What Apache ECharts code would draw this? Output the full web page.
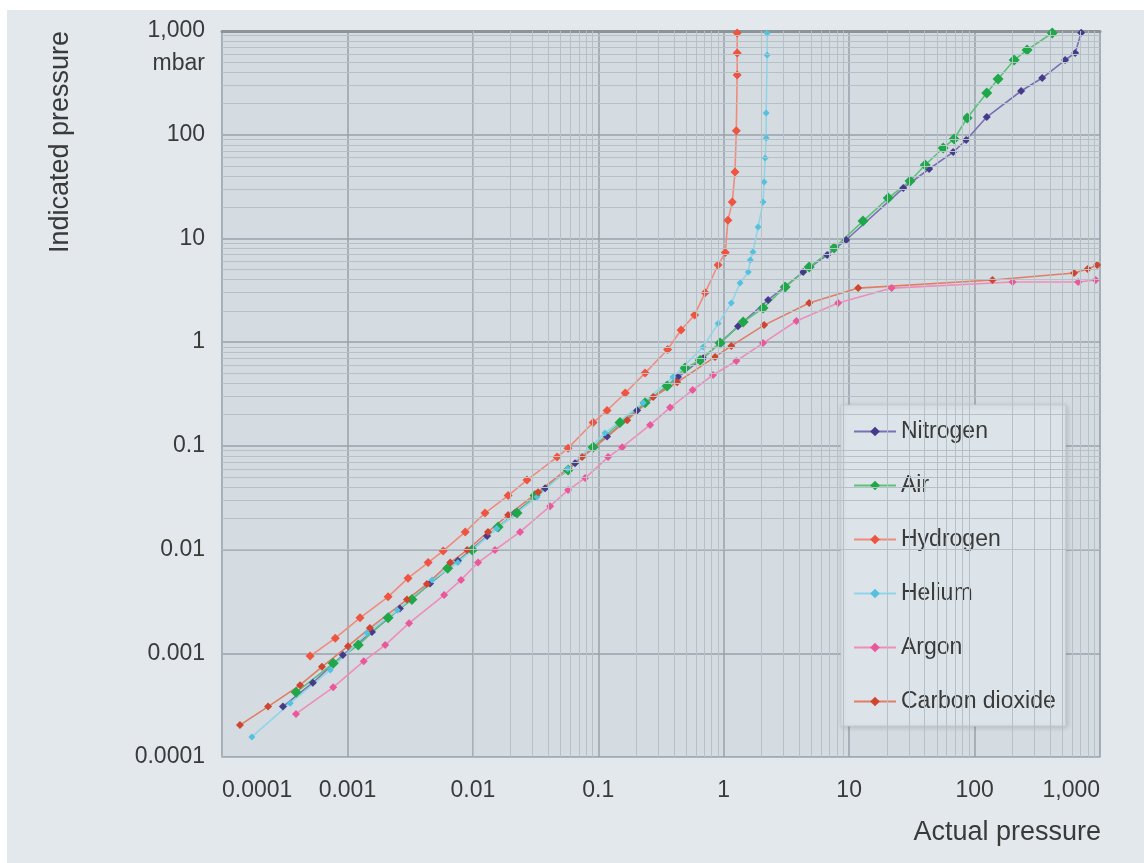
<!DOCTYPE html>
<html>
<head>
<meta charset="utf-8">
<script src="https://cdn.jsdelivr.net/npm/echarts@6/dist/echarts.min.js"></script>
<style>
html,body{margin:0;padding:0;background:#ffffff;width:1144px;height:863px;overflow:hidden;}
#panel{position:absolute;left:7px;top:10px;width:1137px;height:853px;background:#e2e8ec;}
#c{position:absolute;left:0;top:0;width:1144px;height:863px;}
</style>
</head>
<body>
<div id="panel"></div>
<div id="c"></div>
<script>
// Axis ticks (both axes, mbar, log scale)
const tickValues = [0.0001, 0.001, 0.01, 0.1, 1, 10, 100, 1000];
const tickLabels = ['0.0001', '0.001', '0.01', '0.1', '1', '10', '100', '1,000'];

// Series: actual pressure (x) and indicated pressure (y), mbar
const nitrogenActual    = [0.000306, 0.00053, 0.00092, 0.00157, 0.00262, 0.00456, 0.0076, 0.013, 0.0217, 0.0377, 0.0653, 0.1175, 0.204, 0.432, 0.685, 1.3, 2.26, 4.3, 6.68, 9.46, 27, 43.4, 67.5, 85.7, 125, 235, 346, 527, 634, 708];
const nitrogenIndicated = [0.000306, 0.00052, 0.00096, 0.0016, 0.0027, 0.0047, 0.0078, 0.0135, 0.0225, 0.039, 0.068, 0.123, 0.219, 0.46, 0.70, 1.42, 2.55, 4.74, 6.92, 9.66, 30.6, 46.7, 68, 89, 148, 264, 352, 525, 614, 960];

const airActual    = [0.00039, 0.00077, 0.00122, 0.00211, 0.00327, 0.0063, 0.0099, 0.0159, 0.0225, 0.0313, 0.0574, 0.091, 0.149, 0.236, 0.354, 0.492, 0.649, 0.935, 1.43, 2.06, 3.09, 4.8, 7.59, 12.9, 20.5, 30.6, 40.4, 56.2, 68.7, 87.3, 125, 154, 207, 262, 416];
const airIndicated = [0.00042, 0.0008, 0.0012, 0.0022, 0.0033, 0.0066, 0.0099, 0.0165, 0.0225, 0.0332, 0.0585, 0.097, 0.168, 0.261, 0.378, 0.562, 0.67, 0.98, 1.56, 2.13, 3.4, 5.3, 8.08, 14.7, 24.5, 35.8, 51, 74.5, 91, 145, 252, 344, 525, 656, 957];

const hydrogenActual    = [0.000504, 0.0008, 0.00126, 0.00211, 0.00304, 0.0044, 0.0058, 0.0087, 0.0125, 0.0191, 0.027, 0.0469, 0.0574, 0.091, 0.1175, 0.164, 0.236, 0.357, 0.457, 0.586, 0.711, 0.901, 1.03, 1.08, 1.17, 1.23, 1.26, 1.28, 1.28, 1.28];
const hydrogenIndicated = [0.00094, 0.0014, 0.0022, 0.0035, 0.0053, 0.0075, 0.0097, 0.0148, 0.0225, 0.0332, 0.0468, 0.078, 0.095, 0.168, 0.219, 0.323, 0.503, 0.85, 1.31, 1.83, 3.0, 5.54, 7.3, 15.0, 22.4, 43.6, 109, 377, 614, 957];

const heliumActual    = [0.000173, 0.00035, 0.00073, 0.00143, 0.0025, 0.00473, 0.0076, 0.0155, 0.0325, 0.057, 0.113, 0.228, 0.394, 0.685, 0.901, 1.15, 1.35, 1.57, 1.63, 1.71, 1.88, 2.06, 2.1, 2.14, 2.18, 2.18, 2.22, 2.22];
const heliumIndicated = [0.000156, 0.00033, 0.00069, 0.00157, 0.0026, 0.0051, 0.0075, 0.016, 0.0321, 0.06, 0.133, 0.261, 0.46, 0.90, 1.51, 2.38, 3.72, 4.74, 6.19, 7.4, 12.9, 22.4, 35, 59.6, 93, 162, 587, 957];

const argonActual    = [0.000389, 0.00077, 0.00135, 0.002, 0.0031, 0.0059, 0.00805, 0.011, 0.015, 0.0238, 0.0413, 0.0574, 0.0785, 0.1197, 0.155, 0.259, 0.374, 0.565, 0.822, 1.26, 2.06, 3.8, 8.17, 21.8, 201, 670, 925];
const argonIndicated = [0.00026, 0.00047, 0.00084, 0.0012, 0.00195, 0.00364, 0.0051, 0.0075, 0.0099, 0.0148, 0.0262, 0.0375, 0.0489, 0.078, 0.097, 0.159, 0.234, 0.345, 0.482, 0.658, 0.98, 1.6, 2.38, 3.32, 3.8, 3.8, 3.97];

const co2Actual    = [0.000139, 0.000233, 0.000419, 0.000626, 0.00101, 0.00151, 0.00298, 0.0043, 0.0066, 0.009, 0.0132, 0.0191, 0.0331, 0.0743, 0.17, 0.274, 0.425, 0.853, 1.15, 2.1, 4.8, 11.8, 139, 622, 798, 950];
const co2Indicated = [0.000203, 0.000306, 0.000493, 0.00074, 0.00117, 0.00175, 0.0033, 0.00465, 0.0075, 0.0099, 0.0148, 0.0215, 0.0358, 0.078, 0.177, 0.296, 0.41, 0.72, 0.92, 1.46, 2.38, 3.32, 3.97, 4.64, 5.07, 5.54];

const seriesNames = ['Nitrogen', 'Air', 'Hydrogen', 'Helium', 'Argon', 'Carbon dioxide'];

const FONT = 'Liberation Sans, Arial, sans-serif';
const TEXT = '#3a3a3a';

function zip(a, b) { return a.map((v, i) => [v, b[i]]); }
function fmt(v) {
  for (let i = 0; i < tickValues.length; i++) {
    if (Math.abs(Math.log10(v) - Math.log10(tickValues[i])) < 1e-6) return tickLabels[i];
  }
  return '';
}

// minor log grid lines (2..9 within each decade)
const minorGrid = [];
for (let i = 0; i < tickValues.length - 1; i++) {
  for (let m = 2; m <= 9; m++) minorGrid.push(parseFloat((tickValues[i] * m).toPrecision(6)));
}

function mkSeries(name, xs, ys, color, lineColor, symbol, size) {
  return {
    name: name, type: 'line', data: zip(xs, ys), z: 3,
    symbol: symbol, symbolSize: size, showSymbol: true,
    itemStyle: { color: color },
    lineStyle: { color: lineColor, width: 1.6 },
    emphasis: { disabled: true },
    animation: false
  };
}

const chart = echarts.init(document.getElementById('c'), null, { renderer: 'canvas' });
chart.setOption({
  backgroundColor: 'transparent',
  animation: false,
  textStyle: { fontFamily: FONT },
  grid: { left: 222, right: 44, top: 31, bottom: 106, show: true, backgroundColor: '#d4dce1', borderColor: '#b3bcc2', borderWidth: 1 },
  xAxis: [{
    type: 'log', logBase: 10, min: 0.0001, max: 1000, splitNumber: 7,
    axisLine: { show: true, lineStyle: { color: '#aeb7bd', width: 1 } },
    axisTick: { show: false },
    axisLabel: { formatter: fmt, color: TEXT, fontSize: 23, fontFamily: FONT, margin: 22, alignMinLabel: 'left', alignMaxLabel: 'right' },
    splitLine: { show: true, lineStyle: { color: '#98a2aa', width: 1.5 } }
  }, {
    type: 'log', logBase: 10, min: 0.0001, max: 1000, position: 'top',
    axisLine: { show: true, lineStyle: { color: '#8c9499', width: 3 } },
    axisTick: { show: false }, axisLabel: { show: false }, splitLine: { show: false }
  }],
  yAxis: {
    type: 'log', logBase: 10, min: 0.0001, max: 1000, splitNumber: 7,
    axisLine: { show: true, lineStyle: { color: '#a9b2b8', width: 1 } },
    axisTick: { show: false },
    axisLabel: { formatter: fmt, color: TEXT, fontSize: 23, fontFamily: FONT, margin: 17 },
    splitLine: { show: true, lineStyle: { color: '#98a2aa', width: 1.5 } }
  },
  legend: {
    data: seriesNames, orient: 'vertical', left: 841, top: 405,
    padding: [15, 10, 13, 12], itemGap: 31, itemWidth: 42, itemHeight: 12,
    backgroundColor: '#dde4e9', borderColor: '#c4ccd2', borderWidth: 1,
    shadowBlur: 5, shadowColor: 'rgba(0,0,0,0.15)', shadowOffsetX: 1, shadowOffsetY: 1,
    textStyle: { color: TEXT, fontSize: 23, fontFamily: FONT },
    selectedMode: false
  },
  graphic: [
    { type: 'text', x: 61, y: 142, rotation: Math.PI / 2, silent: true,
      style: { text: 'Indicated pressure', fill: TEXT, font: '27px ' + FONT, textAlign: 'center', textVerticalAlign: 'middle' } },
    { type: 'text', x: 205, y: 64, silent: true,
      style: { text: 'mbar', fill: TEXT, font: '23px ' + FONT, textAlign: 'right', textVerticalAlign: 'middle' } },
    { type: 'text', x: 1101, y: 833, silent: true,
      style: { text: 'Actual pressure', fill: TEXT, font: '27px ' + FONT, textAlign: 'right', textVerticalAlign: 'middle' } }
  ],
  series: [
    {
      type: 'line', data: [], z: 1, silent: true, animation: false,
      markLine: {
        silent: true, symbol: ['none', 'none'], animation: false,
        label: { show: false },
        emphasis: { disabled: true },
        lineStyle: { color: '#b6c0c7', width: 1, type: 'solid' },
        data: minorGrid.map(v => ({ xAxis: v })).concat(minorGrid.map(v => ({ yAxis: v })))
      }
    },
    mkSeries('Nitrogen', nitrogenActual, nitrogenIndicated, '#463a8a', '#7a70b4', 'diamond', 8),
    mkSeries('Air', airActual, airIndicated, '#1fa84a', '#5cc27a', 'diamond', 11),
    mkSeries('Hydrogen', hydrogenActual, hydrogenIndicated, '#ee5440', '#f28a7b', 'diamond', 9),
    mkSeries('Helium', heliumActual, heliumIndicated, '#55c1df', '#8fd5ea', 'diamond', 7),
    mkSeries('Argon', argonActual, argonIndicated, '#e8589a', '#ef8cba', 'diamond', 8),
    mkSeries('Carbon dioxide', co2Actual, co2Indicated, '#cf4530', '#e07d66', 'diamond', 8)
  ]
});
</script>
</body>
</html>
